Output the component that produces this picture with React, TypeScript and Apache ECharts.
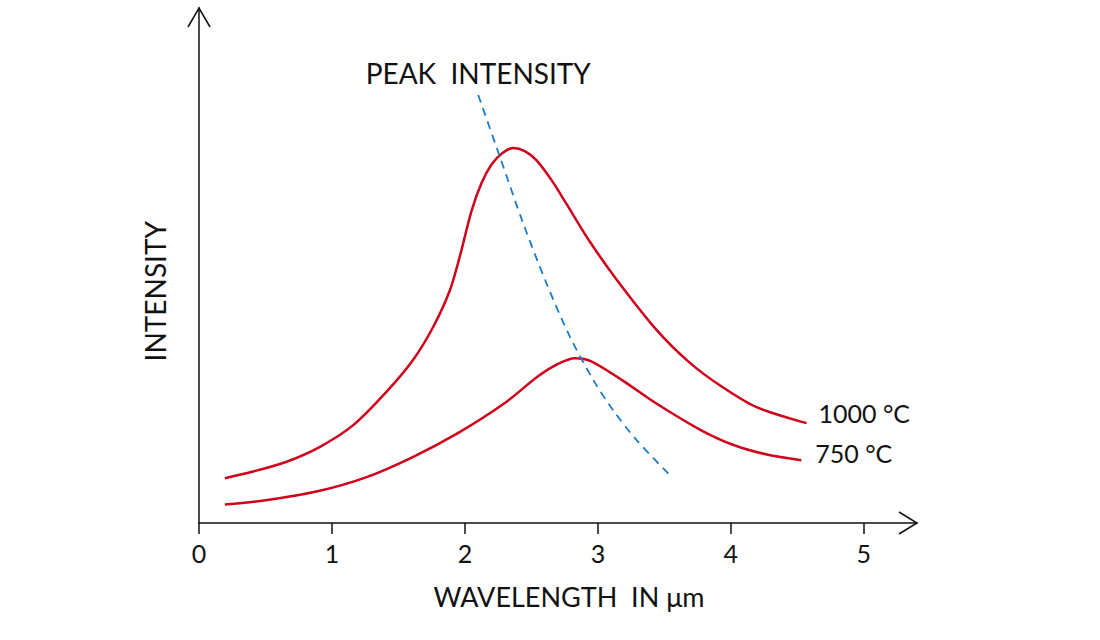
import React, { useEffect, useRef } from "react";
import * as echarts from "echarts";

const xTicks = [0, 1, 2, 3, 4, 5];

const hot = [
  [0.195, 8.7], [0.408, 10.0], [0.659, 11.9], [0.91, 14.8], [1.16, 19.0],
  [1.411, 25.5], [1.611, 31.7], [1.762, 38.1], [1.887, 45.2], [1.962, 51.8],
  [2.05, 60.6], [2.125, 66.0], [2.2, 69.6], [2.28, 71.8], [2.363, 72.8],
  [2.45, 72.2], [2.539, 70.4], [2.664, 66.1], [2.765, 61.9], [2.94, 54.6],
  [3.14, 47.3], [3.441, 37.5], [3.692, 31.1], [3.942, 26.3], [4.193, 22.5],
  [4.569, 19.4],
];

const warm = [
  [0.195, 3.6], [0.5, 4.4], [0.9, 6.2], [1.25, 8.8], [1.6, 12.7],
  [1.95, 17.5], [2.3, 23.3], [2.55, 28.5], [2.7, 30.9], [2.827, 32.0],
  [2.95, 31.4], [3.19, 27.6], [3.44, 23.2], [3.77, 18.1], [4.015, 15.2],
  [4.27, 13.3], [4.53, 12.2],
];

const peak = [
  [2.1, 83.1], [2.263, 71.1], [2.438, 58.2], [2.614, 46.5], [2.789, 36.2],
  [2.965, 27.8], [3.115, 21.9], [3.291, 16.1], [3.541, 9.3],
];

const FONT = "Lato";
const RED = "#d0021b";
const BLUE = "#1a7cc6";

export default function App() {
  const ref = useRef<HTMLDivElement>(null);
  useEffect(() => {
    if (!ref.current) return;
    const chart = echarts.init(ref.current, null, { renderer: "svg" });
    const textBase = { fontFamily: FONT, color: "#111", fontSize: 26, fontWeight: 400 as any };
    chart.setOption({
      animation: false,
      grid: { left: 199, right: 183, top: 8, bottom: 117 },
      xAxis: {
        type: "value",
        min: 0,
        max: 5.4,
        interval: 1,
        splitLine: { show: false },
        axisLine: { show: true, lineStyle: { color: "#111", width: 1.5 } },
        axisTick: { show: true, length: 11, customValues: xTicks, lineStyle: { color: "#111", width: 1.5 } },
        axisLabel: { customValues: xTicks, margin: 17, ...textBase, fontSize: 25 },
        name: "WAVELENGTH  IN μm",
        nameLocation: "middle",
        nameGap: 60,
        nameTextStyle: { ...textBase, fontSize: 27, padding: [0, 0, 0, 22] },
      },
      yAxis: {
        type: "value",
        min: 0,
        max: 100,
        splitLine: { show: false },
        axisLine: { show: true, lineStyle: { color: "#111", width: 1.5 } },
        axisTick: { show: false },
        axisLabel: { show: false },
      },
      series: [
        {
          name: "1000 °C",
          type: "line",
          data: hot,
          smooth: 0.3,
          showSymbol: false,
          lineStyle: { color: RED, width: 2.5 },
          endLabel: { show: true, formatter: "{a}", offset: [4, -10], ...textBase, fontSize: 25 },
        },
        {
          name: "750 °C",
          type: "line",
          data: warm,
          smooth: 0.3,
          showSymbol: false,
          lineStyle: { color: RED, width: 2.5 },
          endLabel: { show: true, formatter: "{a}", offset: [6, -7], ...textBase, fontSize: 25 },
        },
        {
          name: "PEAK  INTENSITY",
          type: "line",
          data: peak,
          smooth: 0.3,
          showSymbol: false,
          lineStyle: { color: BLUE, width: 1.8, type: [8, 6] },
          markPoint: {
            symbol: "circle",
            symbolSize: 1,
            itemStyle: { color: "rgba(0,0,0,0)" },
            data: [
              {
                coord: peak[0],
                label: {
                  show: true,
                  position: "top",
                  distance: 8,
                  formatter: "PEAK  INTENSITY",
                  ...textBase,
                  fontSize: 28,
                },
              },
            ],
          },
        },
      ],
    });

    const [ox, oy] = chart.convertToPixel({ gridIndex: 0 }, [0, 0]) as number[];
    const [tx] = chart.convertToPixel({ gridIndex: 0 }, [5.4, 0]) as number[];
    const [, ty] = chart.convertToPixel({ gridIndex: 0 }, [0, 100]) as number[];
    const [, my] = chart.convertToPixel({ gridIndex: 0 }, [0, 45]) as number[];
    chart.setOption({
      graphic: [
        {
          type: "polyline",
          shape: { points: [[ox - 11, ty + 19], [ox, ty], [ox + 11, ty + 19]] },
          style: { stroke: "#111", lineWidth: 1.5, fill: "none" },
        },
        {
          type: "polyline",
          shape: { points: [[tx - 18, oy - 11], [tx, oy], [tx - 18, oy + 11]] },
          style: { stroke: "#111", lineWidth: 1.5, fill: "none" },
        },
        {
          type: "text",
          x: ox - 44,
          y: my,
          rotation: Math.PI / 2,
          style: {
            text: "INTENSITY",
            font: `400 28px ${FONT}`,
            fill: "#111",
            align: "center",
            verticalAlign: "middle",
          },
        },
      ],
    });
    return () => chart.dispose();
  }, []);
  return (
    <div
      ref={ref}
      style={{ position: "absolute", left: 0, top: 0, width: 1100, height: 640, background: "#fff" }}
    />
  );
}
